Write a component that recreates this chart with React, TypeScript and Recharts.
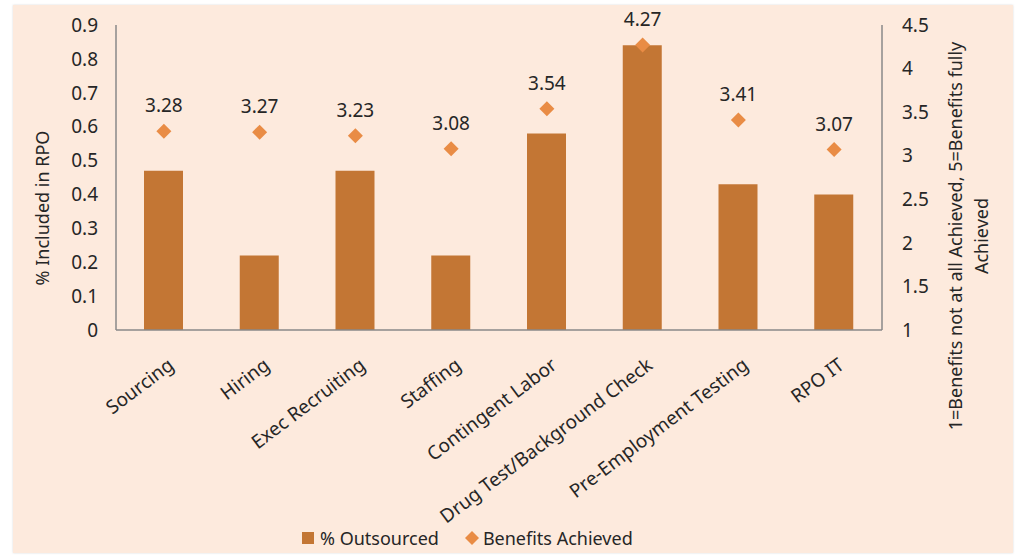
import React from "react";
import {
  ComposedChart,
  Bar,
  Scatter,
  XAxis,
  YAxis,
  Legend,
} from "recharts";

const categories = [
  "Sourcing",
  "Hiring",
  "Exec Recruiting",
  "Staffing",
  "Contingent Labor",
  "Drug Test/Background Check",
  "Pre-Employment Testing",
  "RPO IT",
];
const outsourced = [0.47, 0.22, 0.47, 0.22, 0.58, 0.84, 0.43, 0.4];
const benefits = [3.28, 3.27, 3.23, 3.08, 3.54, 4.27, 3.41, 3.07];
const leftTicks = [0, 0.1, 0.2, 0.3, 0.4, 0.5, 0.6, 0.7, 0.8, 0.9];
const rightTicks = [1, 1.5, 2, 2.5, 3, 3.5, 4, 4.5];

const data = categories.map((name, i) => ({
  name,
  outsourced: outsourced[i],
  benefit: benefits[i],
}));

const BAR = "#C37634";
const DOT = "#E98C45";
const TEXT = "#262626";
const AXIS = "#898989";
const FONT = "'Noto Sans', sans-serif";

const CategoryTick = (props: any) => {
  const { x, y, payload } = props;
  const ax = x + 7;
  const ay = y + 24;
  return (
    <text
      x={ax}
      y={ay}
      transform={`rotate(-37, ${ax}, ${ay})`}
      textAnchor="end"
      dominantBaseline="central"
      fontSize={19}
      fill={TEXT}
      fontFamily={FONT}
    >
      {payload.value}
    </text>
  );
};

const DiamondPoint = (props: any) => {
  const { cx, cy, payload } = props;
  const r = 7.5;
  return (
    <g>
      <polygon
        points={`${cx},${cy - r} ${cx + r},${cy} ${cx},${cy + r} ${cx - r},${cy}`}
        fill={DOT}
      />
      <text
        x={cx}
        y={cy - 26}
        textAnchor="middle"
        dominantBaseline="central"
        fontSize={19}
        fill={TEXT}
        fontFamily={FONT}
      >
        {payload.benefit.toFixed(2)}
      </text>
    </g>
  );
};

const LeftTitle = () => (
  <text
    x={29}
    y={203}
    transform="rotate(-90, 29, 203)"
    textAnchor="middle"
    dominantBaseline="central"
    fontSize={18}
    fill={TEXT}
    fontFamily={FONT}
  >
    % Included in RPO
  </text>
);

const RightTitle = () => (
  <g fontSize={18} fill={TEXT} fontFamily={FONT}>
    <text
      x={942}
      y={231}
      transform="rotate(-90, 942, 231)"
      textAnchor="middle"
      dominantBaseline="central"
    >
      1=Benefits not at all Achieved, 5=Benefits fully
    </text>
    <text
      x={968}
      y={231}
      transform="rotate(-90, 968, 231)"
      textAnchor="middle"
      dominantBaseline="central"
    >
      Achieved
    </text>
  </g>
);

const LegendContent = () => (
  <div
    style={{
      display: "flex",
      alignItems: "center",
      paddingLeft: 289,
      height: 30,
      fontFamily: FONT,
      fontSize: 18,
      color: TEXT,
    }}
  >
    <span
      style={{ width: 12, height: 12, background: BAR, display: "inline-block", marginRight: 6 }}
    />
    <span style={{ marginRight: 26 }}>% Outsourced</span>
    <svg width={14} height={14} style={{ marginRight: 4 }}>
      <polygon points="7,0 14,7 7,14 0,7" fill={DOT} />
    </svg>
    <span>Benefits Achieved</span>
  </div>
);

export default function App() {
  return (
    <div
      style={{
        position: "absolute",
        left: 13,
        top: 5,
        width: 1000,
        height: 548,
        background: "#FDEADD",
        boxShadow: "0 0 2px rgba(0,0,0,0.15)",
      }}
    >
      <ComposedChart
        width={1000}
        height={548}
        data={data}
        margin={{ top: 20, right: 0, left: 0, bottom: 0 }}
      >
        <XAxis
          dataKey="name"
          interval={0}
          tickLine={false}
          axisLine={{ stroke: AXIS, strokeWidth: 1.5 }}
          height={193}
          tick={<CategoryTick />}
        />
        <YAxis
          yAxisId="left"
          width={103}
          domain={[0, 0.9]}
          ticks={leftTicks}
          tickFormatter={(v: number) => String(v)}
          tickLine={false}
          tickSize={0}
          tickMargin={18}
          axisLine={{ stroke: AXIS, strokeWidth: 1.5 }}
          tick={{ fontSize: 19, fill: TEXT, fontFamily: FONT }}
          label={{ content: <LeftTitle /> }}
        />
        <YAxis
          yAxisId="right"
          orientation="right"
          width={131}
          domain={[1, 4.5]}
          ticks={rightTicks}
          tickFormatter={(v: number) => String(v)}
          tickLine={false}
          tickSize={0}
          tickMargin={20}
          axisLine={{ stroke: AXIS, strokeWidth: 1.5 }}
          tick={{ fontSize: 19, fill: TEXT, fontFamily: FONT, textAnchor: "start" }}
          label={{ content: <RightTitle /> }}
        />
        <Legend verticalAlign="bottom" content={<LegendContent />} />
        <Bar
          yAxisId="left"
          dataKey="outsourced"
          name="% Outsourced"
          fill={BAR}
          barSize={39}
          isAnimationActive={false}
        />
        <Scatter
          yAxisId="right"
          dataKey="benefit"
          name="Benefits Achieved"
          fill={DOT}
          shape={<DiamondPoint />}
          isAnimationActive={false}
        />
      </ComposedChart>
    </div>
  );
}
